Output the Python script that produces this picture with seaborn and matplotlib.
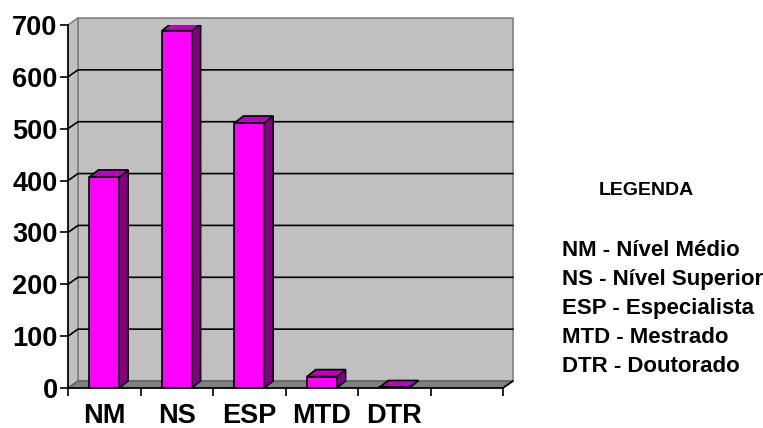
import matplotlib
matplotlib.use("Agg")
import matplotlib.pyplot as plt
import seaborn as sns
import pandas as pd
from matplotlib.patches import Polygon, Rectangle

categories = ["NM", "NS", "ESP", "MTD", "DTR"]
values = [407, 689, 511, 22, 1]
yticks = [0, 100, 200, 300, 400, 500, 600, 700]
legend_title = "LEGENDA"
legend_lines = ["NM - Nível Médio", "NS - Nível Superior", "ESP - Especialista",
                "MTD - Mestrado", "DTR - Doutorado"]
n_slots = 6

sns.set_theme(style="white")
plt.rcParams["font.family"] = ["Liberation Sans", "DejaVu Sans"]
plt.rcParams["text.color"] = "black"
plt.rcParams["xtick.color"] = "black"
plt.rcParams["ytick.color"] = "black"
plt.rcParams["xtick.labelcolor"] = "black"
plt.rcParams["ytick.labelcolor"] = "black"

W, H, DPI = 763, 428, 100
fig = plt.figure(figsize=(W / DPI, H / DPI), dpi=DPI)
ax = fig.add_axes([68 / W, (H - 388) / H, (503 - 68) / W, (388 - 25) / H])
ax.set_facecolor("none")

df = pd.DataFrame({"cat": categories, "val": values})
sns.barplot(data=df, x="cat", y="val", order=categories, color="#FF00FF",
            saturation=1, edgecolor="black", linewidth=1.2, width=0.41, ax=ax,
            zorder=3)

x0, x1 = -0.5, n_slots - 0.5
ax.set_xlim(x0, x1)
ax.set_ylim(0, 700)

# pixel -> data conversion for the 3D depth
ax_w_px = ax.get_position().width * W
ax_h_px = ax.get_position().height * H
px_x = (x1 - x0) / ax_w_px
px_y = 700 / ax_h_px
DX, DY = 10 * px_x, 7 * px_y        # wall depth
BX, BY = 9 * px_x, 7 * px_y         # bar depth

# back wall
ax.add_patch(Rectangle((x0 + DX, DY), x1 - x0, 700, facecolor="#C0C0C0",
                       edgecolor="#808080", linewidth=1.2, clip_on=False, zorder=0))
# left wall
ax.add_patch(Polygon([(x0, 0), (x0 + DX, DY), (x0 + DX, 700 + DY), (x0, 700)],
                     closed=True, facecolor="#C0C0C0", edgecolor="#808080",
                     linewidth=1.2, clip_on=False, zorder=0.2))
# gridlines
for v in yticks[1:-1]:
    ax.plot([x0, x0 + DX, x1 + DX], [v, v + DY, v + DY], color="black",
            linewidth=1.2, clip_on=False, zorder=0.5)
# floor
ax.add_patch(Polygon([(x0, 0), (x1, 0), (x1 + DX, DY), (x0 + DX, DY)],
                     closed=True, facecolor="#808080", edgecolor="#606060",
                     linewidth=1.0, clip_on=False, zorder=1))
ax.plot([x1, x1 + DX], [0, DY], color="black", linewidth=1.2, clip_on=False, zorder=1.5)

# 3D faces of the bars
for p in list(ax.patches):
    if not hasattr(p, "get_width") or p.get_facecolor()[:3] != (1.0, 0.0, 1.0):
        continue
    x, w, h = p.get_x(), p.get_width(), p.get_height()
    side = Polygon([(x + w, 0), (x + w + BX, BY), (x + w + BX, h + BY), (x + w, h)],
                   closed=True, facecolor="#800080", edgecolor="black",
                   linewidth=1.2, zorder=2.9)
    top = Polygon([(x, h), (x + BX, h + BY), (x + w + BX, h + BY), (x + w, h)],
                  closed=True, facecolor="#C000C0", edgecolor="black",
                  linewidth=1.2, zorder=2.9)
    ax.add_patch(side)
    ax.add_patch(top)

for s in ["top", "right"]:
    ax.spines[s].set_visible(False)
for s in ["left", "bottom"]:
    ax.spines[s].set_color("black")
    ax.spines[s].set_linewidth(1.2)
    ax.spines[s].set_zorder(1.6)

ax.set_yticks(yticks)
ax.set_yticklabels([str(v) for v in yticks], fontsize=19.5, fontweight="bold",
                   color="black")
ax.tick_params(axis="y", length=6, width=1.2, color="black", pad=1.5, left=True)
ax.set_xticks(range(len(categories)))
ax.set_xticklabels(categories, fontsize=19.5, fontweight="bold", color="black")
ax.set_xticks([x0 + i for i in range(n_slots + 1)], minor=True)
ax.tick_params(axis="x", which="major", length=0, pad=11)
ax.tick_params(axis="x", which="minor", length=6, width=1.2, color="black", bottom=True)
ax.set_xlabel("")
ax.set_ylabel("")

fig.text(646 / W, 1 - 190.5 / H, legend_title, fontsize=14, fontweight="bold",
         ha="center", va="center", color="black")
for i, line in enumerate(legend_lines):
    fig.text(562 / W, 1 - (250.5 + 29 * i) / H, line, fontsize=16,
             fontweight="bold", ha="left", va="center", color="black")

fig.savefig("out.png", dpi=DPI, facecolor="white")
